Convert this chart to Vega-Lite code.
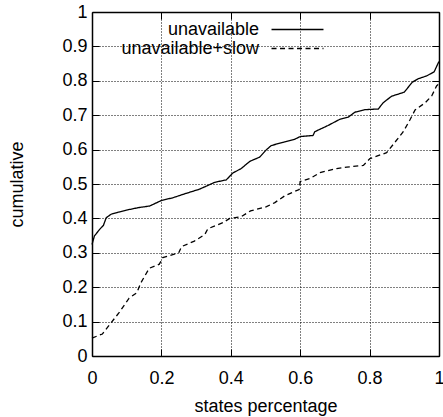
{
  "$schema": "https://vega.github.io/schema/vega-lite/v6.json",
  "width": 347,
  "height": 344,
  "autosize": {"type": "none"},
  "padding": {"left": 92, "top": 12, "right": 4, "bottom": 61},
  "config": {
    "view": {"stroke": null},
    "font": "Liberation Sans",
    "background": "white"
  },
  "resolve": {"axis": {"x": "independent", "y": "independent"}},
  "layer": [
    {
      "mark": {"type": "rect", "fill": "white", "stroke": null},
      "encoding": {
        "x": {"datum": 0, "type": "quantitative",
          "scale": {"domain": [0, 1], "nice": false, "zero": false},
          "axis": {"orient": "top", "values": [0, 0.2, 0.4, 0.6, 0.8, 1], "labels": false, "title": null,
            "grid": true, "gridColor": "black", "gridDash": [1, 2], "gridOpacity": 1, "gridWidth": 1,
            "ticks": true, "tickSize": -7, "tickColor": "black", "tickWidth": 1,
            "domain": true, "domainColor": "black", "domainWidth": 1.5, "zindex": 0}},
        "x2": {"datum": 0.694},
        "y": {"datum": 0.885, "type": "quantitative",
          "scale": {"domain": [0, 1], "nice": false, "zero": false},
          "axis": {"orient": "right", "values": [0, 0.1, 0.2, 0.3, 0.4, 0.5, 0.6, 0.7, 0.8, 0.9, 1], "labels": false, "title": null,
            "grid": true, "gridColor": "black", "gridDash": [1, 2], "gridOpacity": 1, "gridWidth": 1,
            "ticks": true, "tickSize": -7, "tickColor": "black", "tickWidth": 1,
            "domain": true, "domainColor": "black", "domainWidth": 1.5, "zindex": 0}},
        "y2": {"datum": 0.978}
      }
    },
    {
      "data": {"values": [
        {"x": 0, "y": 0.324, "series": "unavailable"},
        {"x": 0.007, "y": 0.349, "series": "unavailable"},
        {"x": 0.022, "y": 0.368, "series": "unavailable"},
        {"x": 0.033, "y": 0.38, "series": "unavailable"},
        {"x": 0.041, "y": 0.402, "series": "unavailable"},
        {"x": 0.055, "y": 0.412, "series": "unavailable"},
        {"x": 0.075, "y": 0.418, "series": "unavailable"},
        {"x": 0.099, "y": 0.424, "series": "unavailable"},
        {"x": 0.132, "y": 0.431, "series": "unavailable"},
        {"x": 0.166, "y": 0.436, "series": "unavailable"},
        {"x": 0.2, "y": 0.452, "series": "unavailable"},
        {"x": 0.233, "y": 0.46, "series": "unavailable"},
        {"x": 0.272, "y": 0.473, "series": "unavailable"},
        {"x": 0.31, "y": 0.485, "series": "unavailable"},
        {"x": 0.354, "y": 0.505, "series": "unavailable"},
        {"x": 0.387, "y": 0.512, "series": "unavailable"},
        {"x": 0.406, "y": 0.532, "series": "unavailable"},
        {"x": 0.43, "y": 0.545, "series": "unavailable"},
        {"x": 0.455, "y": 0.566, "series": "unavailable"},
        {"x": 0.483, "y": 0.578, "series": "unavailable"},
        {"x": 0.503, "y": 0.6, "series": "unavailable"},
        {"x": 0.517, "y": 0.612, "series": "unavailable"},
        {"x": 0.551, "y": 0.621, "series": "unavailable"},
        {"x": 0.584, "y": 0.63, "series": "unavailable"},
        {"x": 0.6, "y": 0.638, "series": "unavailable"},
        {"x": 0.637, "y": 0.641, "series": "unavailable"},
        {"x": 0.642, "y": 0.652, "series": "unavailable"},
        {"x": 0.68, "y": 0.67, "series": "unavailable"},
        {"x": 0.714, "y": 0.688, "series": "unavailable"},
        {"x": 0.738, "y": 0.694, "series": "unavailable"},
        {"x": 0.758, "y": 0.709, "series": "unavailable"},
        {"x": 0.786, "y": 0.716, "series": "unavailable"},
        {"x": 0.825, "y": 0.718, "series": "unavailable"},
        {"x": 0.839, "y": 0.736, "series": "unavailable"},
        {"x": 0.863, "y": 0.755, "series": "unavailable"},
        {"x": 0.9, "y": 0.767, "series": "unavailable"},
        {"x": 0.923, "y": 0.796, "series": "unavailable"},
        {"x": 0.94, "y": 0.806, "series": "unavailable"},
        {"x": 0.964, "y": 0.814, "series": "unavailable"},
        {"x": 0.986, "y": 0.826, "series": "unavailable"},
        {"x": 0.996, "y": 0.848, "series": "unavailable"},
        {"x": 1.0, "y": 0.856, "series": "unavailable"},
        {"x": 0, "y": 0.052, "series": "unavailable+slow"},
        {"x": 0.03, "y": 0.064, "series": "unavailable+slow"},
        {"x": 0.05, "y": 0.09, "series": "unavailable+slow"},
        {"x": 0.078, "y": 0.126, "series": "unavailable+slow"},
        {"x": 0.107, "y": 0.168, "series": "unavailable+slow"},
        {"x": 0.129, "y": 0.184, "series": "unavailable+slow"},
        {"x": 0.141, "y": 0.213, "series": "unavailable+slow"},
        {"x": 0.165, "y": 0.255, "series": "unavailable+slow"},
        {"x": 0.194, "y": 0.267, "series": "unavailable+slow"},
        {"x": 0.204, "y": 0.286, "series": "unavailable+slow"},
        {"x": 0.25, "y": 0.3, "series": "unavailable+slow"},
        {"x": 0.258, "y": 0.318, "series": "unavailable+slow"},
        {"x": 0.295, "y": 0.334, "series": "unavailable+slow"},
        {"x": 0.325, "y": 0.353, "series": "unavailable+slow"},
        {"x": 0.334, "y": 0.37, "series": "unavailable+slow"},
        {"x": 0.378, "y": 0.388, "series": "unavailable+slow"},
        {"x": 0.397, "y": 0.4, "series": "unavailable+slow"},
        {"x": 0.43, "y": 0.405, "series": "unavailable+slow"},
        {"x": 0.457, "y": 0.422, "series": "unavailable+slow"},
        {"x": 0.503, "y": 0.434, "series": "unavailable+slow"},
        {"x": 0.527, "y": 0.446, "series": "unavailable+slow"},
        {"x": 0.556, "y": 0.466, "series": "unavailable+slow"},
        {"x": 0.597, "y": 0.484, "series": "unavailable+slow"},
        {"x": 0.6, "y": 0.507, "series": "unavailable+slow"},
        {"x": 0.628, "y": 0.516, "series": "unavailable+slow"},
        {"x": 0.657, "y": 0.533, "series": "unavailable+slow"},
        {"x": 0.705, "y": 0.545, "series": "unavailable+slow"},
        {"x": 0.734, "y": 0.549, "series": "unavailable+slow"},
        {"x": 0.782, "y": 0.554, "series": "unavailable+slow"},
        {"x": 0.801, "y": 0.574, "series": "unavailable+slow"},
        {"x": 0.849, "y": 0.591, "series": "unavailable+slow"},
        {"x": 0.868, "y": 0.615, "series": "unavailable+slow"},
        {"x": 0.897, "y": 0.652, "series": "unavailable+slow"},
        {"x": 0.916, "y": 0.686, "series": "unavailable+slow"},
        {"x": 0.931, "y": 0.715, "series": "unavailable+slow"},
        {"x": 0.96, "y": 0.736, "series": "unavailable+slow"},
        {"x": 0.979, "y": 0.756, "series": "unavailable+slow"},
        {"x": 0.993, "y": 0.785, "series": "unavailable+slow"},
        {"x": 1.0, "y": 0.792, "series": "unavailable+slow"}
      ]},
      "mark": {"type": "line", "color": "black", "strokeWidth": 1.3, "interpolate": "linear"},
      "encoding": {
        "x": {"field": "x", "type": "quantitative",
          "scale": {"domain": [0, 1], "nice": false, "zero": false},
          "axis": {"orient": "bottom", "values": [0, 0.2, 0.4, 0.6, 0.8, 1], "format": ".1~f",
            "title": "states percentage", "titleFontSize": 18, "titleFontWeight": "normal", "titleColor": "black", "titleFont": "Liberation Sans", "titlePadding": 10,
            "labelFontSize": 18, "labelFont": "Liberation Sans", "labelColor": "black", "labelPadding": 20, "labelFlush": false,
            "grid": false, "ticks": true, "tickSize": -7, "tickColor": "black", "tickWidth": 1,
            "domain": true, "domainColor": "black", "domainWidth": 1.5, "zindex": 1}},
        "y": {"field": "y", "type": "quantitative",
          "scale": {"domain": [0, 1], "nice": false, "zero": false},
          "axis": {"orient": "left", "values": [0, 0.1, 0.2, 0.3, 0.4, 0.5, 0.6, 0.7, 0.8, 0.9, 1], "format": ".1~f",
            "title": "cumulative", "titleFontSize": 18, "titleFontWeight": "normal", "titleColor": "black", "titleFont": "Liberation Sans", "titlePadding": 35,
            "labelFontSize": 18, "labelFont": "Liberation Sans", "labelColor": "black", "labelPadding": 12, "labelFlush": false,
            "grid": false, "ticks": true, "tickSize": -7, "tickColor": "black", "tickWidth": 1,
            "domain": true, "domainColor": "black", "domainWidth": 1.5, "zindex": 1}},
        "strokeDash": {"field": "series", "type": "nominal",
          "scale": {"domain": ["unavailable", "unavailable+slow"], "range": [[1, 0], [5, 3.5]]},
          "legend": {"orient": "none", "legendX": 196, "legendY": 8, "title": null,
            "symbolType": "M-3,0H3", "symbolSize": 300, "symbolStrokeWidth": 1.3, "symbolStrokeColor": "black",
            "labelFontSize": 18, "labelFont": "Liberation Sans", "labelColor": "black", "labelAlign": "right", "labelOffset": -48,
            "rowPadding": 0, "padding": 0, "labelLimit": 300}}
      }
    }
  ]
}
